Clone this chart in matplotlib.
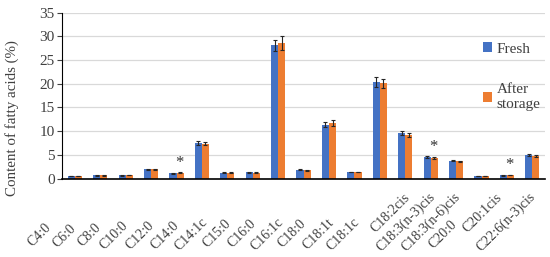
import matplotlib
matplotlib.use("Agg")
import matplotlib.pyplot as plt
import matplotlib.transforms as mtransforms
import numpy as np

acids = ["C4:0", "C6:0", "C8:0", "C10:0", "C12:0", "C14:0", "C14:1c", "C15:0",
         "C16:0", "C16:1c", "C18:0", "C18:1t", "C18:1c", "C18:2cis",
         "C18:3(n-3)cis", "C18:3(n-6)cis", "C20:0", "C20:1cis", "C22:6(n-3)cis"]
fresh = [0.6, 0.7, 0.7, 2.0, 1.1, 7.5, 1.2, 1.3, 28.1, 1.9, 11.4, 1.35, 20.4,
         9.6, 4.5, 3.75, 0.5, 0.7, 4.9]
after = [0.6, 0.7, 0.8, 2.0, 1.25, 7.4, 1.2, 1.2, 28.6, 1.8, 11.7, 1.35, 20.1,
         9.2, 4.35, 3.65, 0.55, 0.8, 4.8]
fresh_sd = [0.05, 0.05, 0.05, 0.1, 0.05, 0.4, 0.1, 0.1, 1.2, 0.1, 0.6, 0.05,
            1.0, 0.5, 0.2, 0.1, 0.05, 0.05, 0.2]
after_sd = [0.05, 0.05, 0.05, 0.1, 0.05, 0.4, 0.1, 0.1, 1.4, 0.1, 0.6, 0.05,
            0.9, 0.5, 0.2, 0.1, 0.05, 0.05, 0.2]
significant = [4, 14, 17]

# where the category names sit in the original (centre of each rotated label)
label_x = [-1.38, -0.43, 0.59, 1.54, 2.56, 3.54, 4.57, 5.59, 6.58, 7.56, 8.55,
           9.57, 10.56, 12.41, 13.04, 14.02, 14.49, 16.03, 16.97]
label_y = [235, 236, 235, 236, 236, 236, 234, 234, 234, 234, 234, 234, 234,
           213, 222, 222, 235, 213, 222]

plt.rcParams['font.family'] = ['Liberation Serif', 'DejaVu Serif']

fig = plt.figure(figsize=(5.5, 2.57), dpi=100)
ax = fig.add_axes([0.113, 0.305, 0.878, 0.646])

x = np.arange(len(acids))
w = 0.28
ax.bar(x - w / 2, fresh, w, color='#4472C4', label='Fresh', zorder=2)
ax.bar(x + w / 2, after, w, color='#ED7D31', label='After\nstorage', zorder=2)
ax.errorbar(x - w / 2, fresh, yerr=fresh_sd, fmt='none', ecolor='#262626',
            elinewidth=0.8, capsize=1.6, capthick=0.8, zorder=3)
ax.errorbar(x + w / 2, after, yerr=after_sd, fmt='none', ecolor='#262626',
            elinewidth=0.8, capsize=1.6, capthick=0.8, zorder=3)

for i in significant:
    top = max(fresh[i] + fresh_sd[i], after[i] + after_sd[i])
    ax.text(x[i] + 0.1, top + 2.0, '*', ha='center', va='center',
            fontsize=12, color='#333333')

ax.set_xlim(-0.5, len(acids) - 0.5)
ax.set_ylim(0, 35)
ax.set_yticks(np.arange(0, 36, 5))
ax.tick_params(axis='y', labelsize=11, length=3.5, width=0.8, pad=2,
               colors='#404040')
ax.set_xticks([])
ax.grid(axis='y', color='#d9d9d9', linewidth=0.9, zorder=0)
ax.set_axisbelow(True)
for s in ['top', 'right']:
    ax.spines[s].set_visible(False)
ax.spines['left'].set_color('black')
ax.spines['bottom'].set_color('black')
ax.spines['bottom'].set_linewidth(1.2)

ax.set_ylabel('Content of fatty acids (%)', fontsize=10.8, color='#404040',
              va='center')
ax.yaxis.set_label_coords(-0.103, 0.364)

trans = mtransforms.blended_transform_factory(ax.transData, fig.transFigure)
for name, lx, ly in zip(acids, label_x, label_y):
    ax.text(lx, 1 - ly / 257, name, transform=trans, rotation=45,
            rotation_mode='anchor', ha='center', va='center', fontsize=10,
            color='#404040')

ax.legend(loc='upper left', bbox_to_anchor=(0.878, 0.835),
          bbox_transform=fig.transFigure, frameon=False, fontsize=11,
          handlelength=0.6, handleheight=0.6, handletextpad=0.3,
          labelspacing=1.8, borderpad=0, borderaxespad=0,
          labelcolor='#404040')

fig.savefig('out.png', dpi=100)
